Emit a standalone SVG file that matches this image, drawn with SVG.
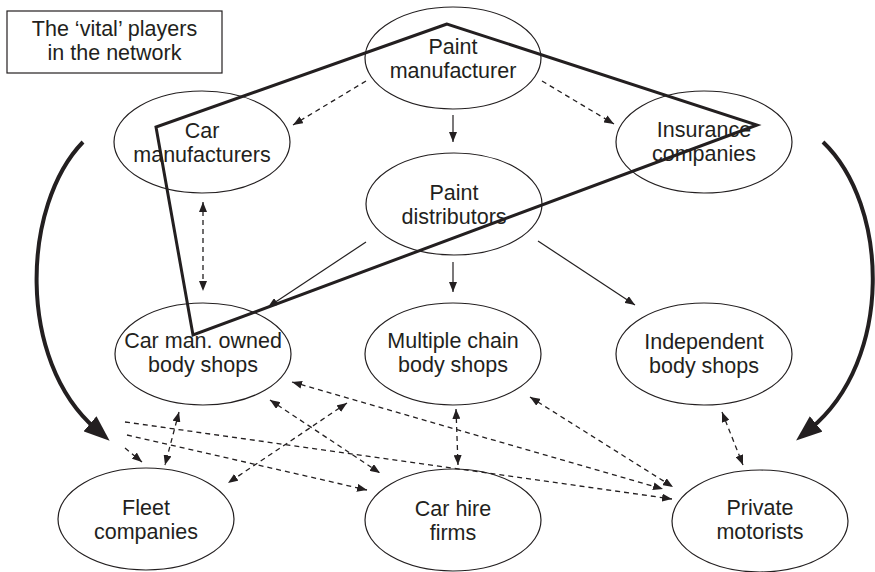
<svg xmlns="http://www.w3.org/2000/svg" width="875" height="572" viewBox="0 0 875 572">
  <style>
    .node ellipse { fill: none; stroke: #231f20; stroke-width: 1.2; }
    .label { font-family: "Liberation Sans", Arial, Helvetica, sans-serif; font-size: 21.5px; fill: #231f20; text-anchor: middle; }
    .solid { fill: none; stroke: #231f20; stroke-width: 1.2; marker-end: url(#tip); }
    .dash { fill: none; stroke: #231f20; stroke-width: 1.3; stroke-dasharray: 5 4; marker-end: url(#tip); }
    .both { marker-start: url(#tip); }
    .flow { fill: none; stroke: #231f20; stroke-width: 4; marker-end: url(#bigtip); }
  </style>
  <defs>
    <marker id="tip" markerUnits="userSpaceOnUse" viewBox="0 0 10 8" refX="10" refY="4" markerWidth="10" markerHeight="8" orient="auto-start-reverse">
      <path d="M0,0 L10,4 L0,8 z" fill="#231f20"/>
    </marker>
    <marker id="bigtip" markerUnits="userSpaceOnUse" viewBox="0 0 26 20" refX="8" refY="10" markerWidth="26" markerHeight="20" orient="auto">
      <path d="M0,0 L26,10 L0,20 z" fill="#231f20"/>
    </marker>
  </defs>

  <rect width="875" height="572" fill="#ffffff"/>

  <!-- caption box -->
  <g id="caption">
    <rect x="7" y="11" width="215" height="62" fill="none" stroke="#231f20" stroke-width="1.2"/>
    <text class="label" x="114.5" y="36">The ‘vital’ players</text>
    <text class="label" x="114.5" y="60">in the network</text>
  </g>

  <!-- nodes -->
  <g id="paint-manufacturer" class="node">
    <ellipse cx="453" cy="58" rx="88" ry="51"/>
    <text class="label" x="453" y="54">Paint</text>
    <text class="label" x="453" y="78">manufacturer</text>
  </g>
  <g id="car-manufacturers" class="node">
    <ellipse cx="202" cy="142" rx="88" ry="51"/>
    <text class="label" x="202" y="138">Car</text>
    <text class="label" x="202" y="162">manufacturers</text>
  </g>
  <g id="insurance-companies" class="node">
    <ellipse cx="704" cy="142" rx="88" ry="51"/>
    <text class="label" x="704" y="137">Insurance</text>
    <text class="label" x="704" y="161">companies</text>
  </g>
  <g id="paint-distributors" class="node">
    <ellipse cx="454" cy="204" rx="88" ry="51"/>
    <text class="label" x="454" y="200">Paint</text>
    <text class="label" x="454" y="224">distributors</text>
  </g>
  <g id="car-man-owned-body-shops" class="node">
    <ellipse cx="203" cy="354" rx="88" ry="51"/>
    <text class="label" x="203" y="348">Car man. owned</text>
    <text class="label" x="203" y="372">body shops</text>
  </g>
  <g id="multiple-chain-body-shops" class="node">
    <ellipse cx="453" cy="354" rx="88" ry="51"/>
    <text class="label" x="453" y="348">Multiple chain</text>
    <text class="label" x="453" y="372">body shops</text>
  </g>
  <g id="independent-body-shops" class="node">
    <ellipse cx="704" cy="354" rx="88" ry="51"/>
    <text class="label" x="704" y="349">Independent</text>
    <text class="label" x="704" y="373">body shops</text>
  </g>
  <g id="fleet-companies" class="node">
    <ellipse cx="146" cy="519" rx="88" ry="51"/>
    <text class="label" x="146" y="515">Fleet</text>
    <text class="label" x="146" y="539">companies</text>
  </g>
  <g id="car-hire-firms" class="node">
    <ellipse cx="453" cy="520" rx="88" ry="51"/>
    <text class="label" x="453" y="516">Car hire</text>
    <text class="label" x="453" y="540">firms</text>
  </g>
  <g id="private-motorists" class="node">
    <ellipse cx="760" cy="521" rx="88" ry="51"/>
    <text class="label" x="760" y="515">Private</text>
    <text class="label" x="760" y="539">motorists</text>
  </g>

  <!-- connectors -->
  <g id="connectors">
    <!-- supply chain -->
    <path class="solid" d="M453,115 L453,142"/>
    <path class="solid" d="M453,262 L453,292"/>
    <path class="solid" d="M538,241 L635,305"/>
    <path class="solid" d="M366,242 L268,307"/>

    <!-- influence links -->
    <path class="dash" d="M366,81 L293,125"/>
    <path class="dash" d="M542,81 L614,124"/>
    <path class="dash both" d="M203,202 L203,291"/>

    <!-- body shops to customers -->
    <path class="dash both" d="M179,412 L165,465"/>
    <path class="dash" d="M125,422 L672,499"/>
    <path class="dash" d="M127,435 L367,490"/>
    <path class="dash" d="M125,448 L142,462"/>
    <path class="dash both" d="M292,382 L663,489"/>
    <path class="dash both" d="M530,397 L673,487"/>
    <path class="dash both" d="M270,400 L380,473"/>
    <path class="dash both" d="M347,403 L228,483"/>
    <path class="dash both" d="M456,409 L458,465"/>
    <path class="dash both" d="M722,412 L743,465"/>

    <!-- large flow arrows -->
    <path class="flow" d="M83,142 C22,205 16,360 96,429"/>
    <path class="flow" d="M823,142 C889,205 894,360 810,429"/>
  </g>

  <!-- outline of the vital players -->
  <g id="vital-players">
    <polygon points="447,24 156,127 193,335 757,125" fill="none" stroke="#231f20" stroke-width="3" stroke-linejoin="miter"/>
  </g>
</svg>
